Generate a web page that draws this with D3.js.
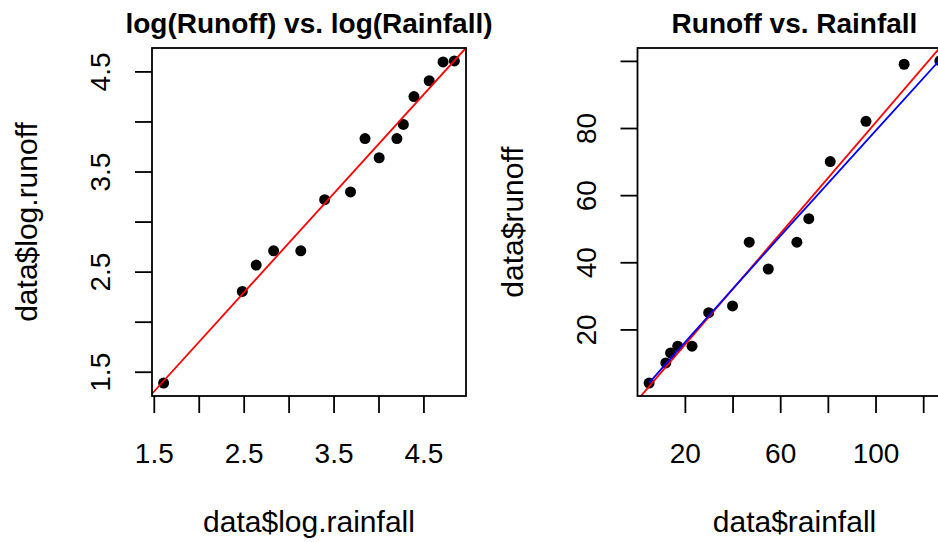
<!DOCTYPE html>
<html>
<head>
<meta charset="utf-8">
<script src="https://cdn.jsdelivr.net/npm/d3@7"></script>
<style>
  body { margin: 0; background: #fff; }
  svg { display: block; font-family: "Liberation Sans", Arial, sans-serif; }
</style>
</head>
<body>
<div id="chart"></div>
<script>
// rainfall / runoff observations
const rainfall = [5, 12, 14, 17, 23, 30, 40, 47, 55, 67, 72, 81, 96, 112, 127];
const runoff = [4, 10, 13, 15, 15, 25, 27, 46, 38, 46, 53, 70, 82, 99, 100];

const logTicks = [1.5, 2, 2.5, 3, 3.5, 4, 4.5];
const logTickLabels = [1.5, 2.5, 3.5, 4.5];
const rainTicks = [20, 40, 60, 80, 100, 120];
const rainTickLabels = [20, 60, 100];
const runoffTicks = [20, 40, 60, 80, 100];
const runoffTickLabels = [20, 40, 60, 80];

const W = 938, H = 542;
const svg = d3.select('#chart').append('svg')
    .attr('width', W)
    .attr('height', H);

const defs = svg.append('defs');

// least squares fit y = a + b x
function fit(xs, ys) {
    const mx = d3.mean(xs), my = d3.mean(ys);
    let sxy = 0, sxx = 0;
    xs.forEach((x, i) => { sxy += (x - mx) * (ys[i] - my); sxx += (x - mx) * (x - mx); });
    const b = sxy / sxx;
    return {a: my - b * mx, b: b};
}

// R style domain: data range padded 4% each side
function rDomain(v) {
    const [lo, hi] = d3.extent(v);
    const pad = (hi - lo) * 0.04;
    return [lo - pad, hi + pad];
}

function panel(cfg) {
    const box = cfg.box;
    const x = d3.scaleLinear().domain(rDomain(cfg.xs)).range([box.x0, box.x1]);
    const y = d3.scaleLinear().domain(rDomain(cfg.ys)).range([box.y1, box.y0]);
    const g = svg.append('g');

    defs.append('clipPath').attr('id', cfg.id + '-clip')
        .append('rect')
        .attr('x', box.x0).attr('y', box.y0)
        .attr('width', box.x1 - box.x0).attr('height', box.y1 - box.y0);

    // points
    g.selectAll('.pt')
        .data(cfg.xs.map((d, i) => [d, cfg.ys[i]]))
        .join('circle')
        .attr('class', 'pt')
        .attr('cx', d => x(d[0]))
        .attr('cy', d => y(d[1]))
        .attr('r', 5.5)
        .attr('fill', '#000');

    const lines = g.append('g').attr('clip-path', `url(#${cfg.id}-clip)`);

    // abline of the linear fit
    const f = fit(cfg.xs, cfg.ys);
    const xd = x.domain();
    lines.append('line')
        .attr('x1', x(xd[0])).attr('y1', y(f.a + f.b * xd[0]))
        .attr('x2', x(xd[1])).attr('y2', y(f.a + f.b * xd[1]))
        .attr('stroke', '#ff0000')
        .attr('stroke-width', 1.8);

    if (cfg.curve) {
        lines.append('path')
            .datum(cfg.curve)
            .attr('d', d3.line().x(d => x(d[0])).y(d => y(d[1])))
            .attr('fill', 'none')
            .attr('stroke', '#0000ff')
            .attr('stroke-width', 1.8);
    }

    // box
    g.append('rect')
        .attr('x', box.x0).attr('y', box.y0)
        .attr('width', box.x1 - box.x0).attr('height', box.y1 - box.y0)
        .attr('fill', 'none')
        .attr('stroke', '#000')
        .attr('stroke-width', 1.8);

    // x axis
    const xAxis = d3.axisBottom(x)
        .tickValues(cfg.xTicks)
        .tickSize(17)
        .tickFormat(d => cfg.xLabels.includes(d) ? d : '');
    const gx = g.append('g')
        .attr('transform', `translate(0,${box.y1})`)
        .call(xAxis);
    gx.select('.domain').remove();
    gx.selectAll('line').attr('stroke', '#000').attr('stroke-width', 1.8);
    gx.selectAll('text')
        .attr('y', 67).attr('dy', 0)
        .attr('fill', '#000')
        .style('font-size', '28px');

    // y axis, labels rotated as R does
    const yAxis = d3.axisLeft(y)
        .tickValues(cfg.yTicks)
        .tickSize(17)
        .tickFormat(d => cfg.yLabels.includes(d) ? d : '');
    const gy = g.append('g')
        .attr('transform', `translate(${box.x0},0)`)
        .call(yAxis);
    gy.select('.domain').remove();
    gy.selectAll('line').attr('stroke', '#000').attr('stroke-width', 1.8);
    gy.selectAll('text')
        .attr('x', 0).attr('dy', 0)
        .attr('text-anchor', 'middle')
        .attr('transform', 'translate(-42,0) rotate(-90)')
        .attr('fill', '#000')
        .style('font-size', '28px');

    const cx = (box.x0 + box.x1) / 2, cy = (box.y0 + box.y1) / 2;
    g.append('text')
        .attr('x', cx).attr('y', 33)
        .attr('text-anchor', 'middle')
        .style('font-size', '28px')
        .style('font-weight', 'bold')
        .text(cfg.title);
    g.append('text')
        .attr('x', cx).attr('y', 532)
        .attr('text-anchor', 'middle')
        .style('font-size', '30px')
        .text(cfg.xTitle);
    g.append('text')
        .attr('transform', `translate(${box.x0 - 115},${cy}) rotate(-90)`)
        .attr('text-anchor', 'middle')
        .style('font-size', '30px')
        .text(cfg.yTitle);
}

const logRain = rainfall.map(Math.log);
const logRun = runoff.map(Math.log);

panel({
    id: 'logp',
    box: {x0: 152, x1: 466, y0: 48, y1: 396},
    xs: logRain, ys: logRun,
    xTicks: logTicks, xLabels: logTickLabels,
    yTicks: logTicks, yLabels: logTickLabels,
    title: 'log(Runoff) vs. log(Rainfall)',
    xTitle: 'data$log.rainfall',
    yTitle: 'data$log.runoff'
});

// back-transformed log-log fit, drawn through the observed rainfall values
const lf = fit(logRain, logRun);
const backFit = rainfall.map(r => [r, Math.exp(lf.a + lf.b * Math.log(r))]);

panel({
    id: 'rawp',
    box: {x0: 637.5, x1: 951.5, y0: 48, y1: 396},
    xs: rainfall, ys: runoff,
    xTicks: rainTicks, xLabels: rainTickLabels,
    yTicks: runoffTicks, yLabels: runoffTickLabels,
    title: 'Runoff vs. Rainfall',
    xTitle: 'data$rainfall',
    yTitle: 'data$runoff',
    curve: backFit
});
</script>
</body>
</html>
